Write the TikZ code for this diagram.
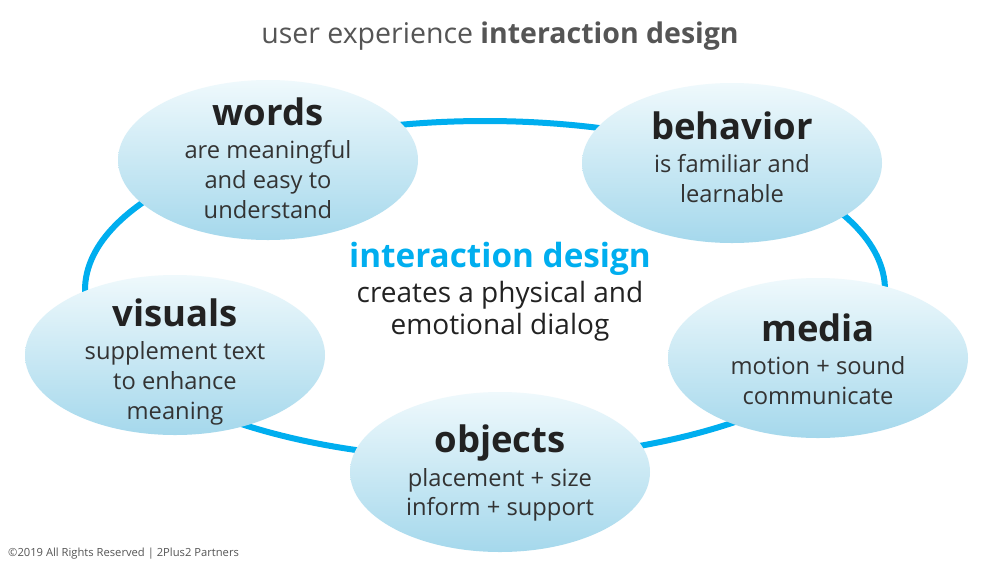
\documentclass[tikz,border=0pt]{standalone}
\usepackage{fontspec}
\setmainfont{Open Sans}
\usetikzlibrary{shapes.geometric}
\definecolor{ringblue}{HTML}{00AEEF}
\definecolor{toplight}{HTML}{EFF9FC}
\definecolor{botlight}{HTML}{A5D8EC}
\definecolor{titlegray}{HTML}{555555}
\definecolor{darktext}{HTML}{222222}
\definecolor{bodytext}{HTML}{333333}
\tikzset{
  bubble/.style={ellipse, minimum width=300pt, minimum height=160pt, inner sep=0pt,
    shading=axis, top color=toplight, bottom color=botlight, draw=none},
  btitle/.style={anchor=base, inner sep=0pt, font=\fontsize{36.5}{40}\bfseries\selectfont, text=darktext},
  bline/.style={anchor=base, inner sep=0pt, font=\fontsize{23.7}{28}\selectfont, text=bodytext},
  ring/.style={draw=ringblue, line width=6pt}
}
\begin{document}
\begin{tikzpicture}[x=1pt,y=-1pt]
\useasboundingbox (0,0) rectangle (1000,563);
\fill[white] (0,0) rectangle (1000,563);
% title
\node[anchor=base, inner sep=0pt, text=titlegray, font=\fontsize{28.5}{32}\selectfont] (title) at (500,43) {user experience \textbf{interaction design}};
% ring
\draw[ring] (485,290) ellipse [x radius=400, y radius=169];
% bubbles
\node[bubble] (words) at (268,160) {};
\node[bubble] (behavior) at (732,163) {};
\node[bubble] (visuals) at (175,355) {};
\node[bubble] (media) at (818,358) {};
\node[bubble] (objects) at (500,472) {};
% words
\node[btitle] (wt) at (268,125) {words};
\node[bline] (w1) at (268,158) {are meaningful};
\node[bline] (w2) at (268,188) {and easy to};
\node[bline] (w3) at (268,218) {understand};
% behavior
\node[btitle] (bt) at (732,139) {behavior};
\node[bline] (b1) at (732,172) {is familiar and};
\node[bline] (b2) at (732,202) {learnable};
% visuals
\node[btitle] (vt) at (175,326) {visuals};
\node[bline] (v1) at (175,359) {supplement text};
\node[bline] (v2) at (175,389) {to enhance};
\node[bline] (v3) at (175,419) {meaning};
% media
\node[btitle] (mt) at (818,341) {media};
\node[bline] (m1) at (818,374) {motion + sound};
\node[bline] (m2) at (818,404) {communicate};
% objects
\node[btitle] (ot) at (500,452) {objects};
\node[bline] (o1) at (500,486) {placement + size};
\node[bline] (o2) at (500,515) {inform + support};
% center
\node[anchor=base, inner sep=0pt, text=ringblue, font=\fontsize{33.3}{36}\bfseries\selectfont] (ct) at (500,267) {interaction design};
\node[anchor=base, inner sep=0pt, text=darktext, font=\fontsize{28}{32}\selectfont] (c1) at (500,302) {creates a physical and};
\node[anchor=base, inner sep=0pt, text=darktext, font=\fontsize{28}{32}\selectfont] (c2) at (500,334) {emotional dialog};
% footer
\node[anchor=base west, inner sep=0pt, text=titlegray, font=\fontsize{11.2}{13}\selectfont] (foot) at (8,556) {©2019 All Rights Reserved | 2Plus2 Partners};
\end{tikzpicture}
\end{document}
